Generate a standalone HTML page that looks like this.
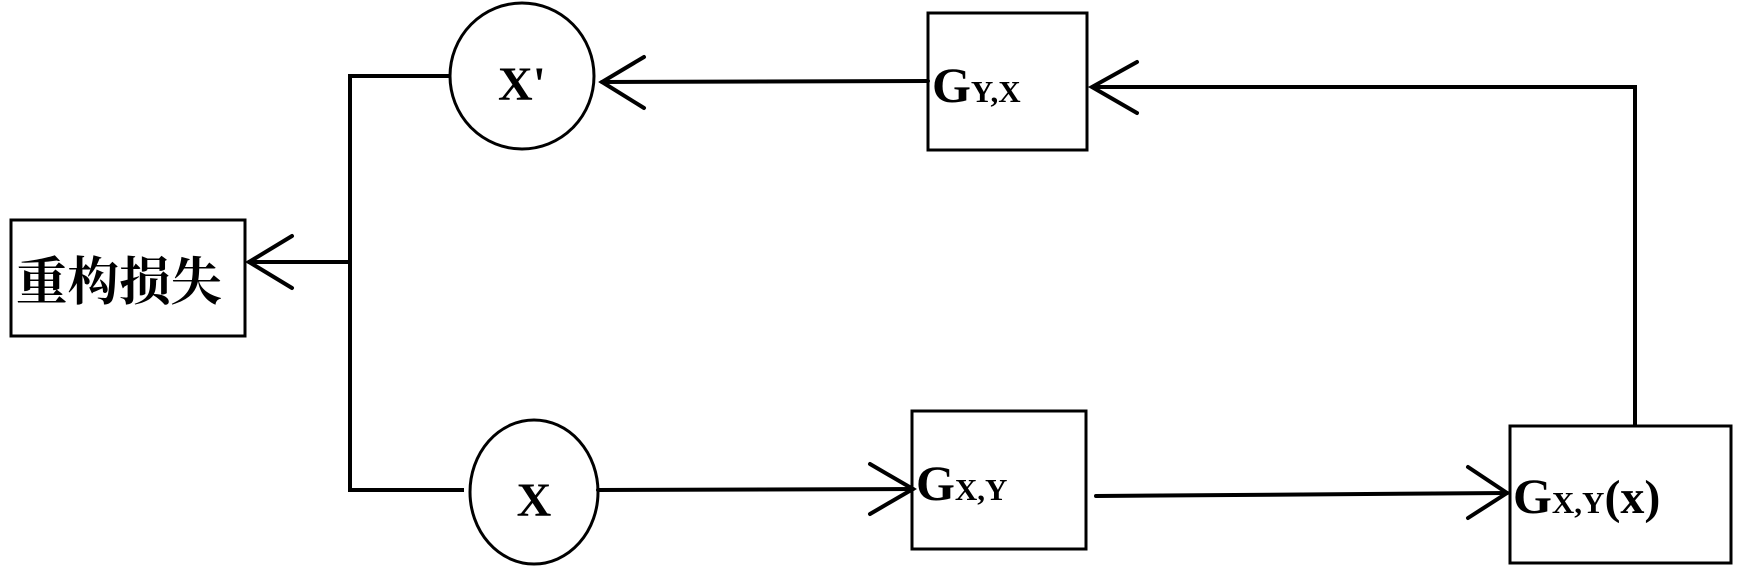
<!DOCTYPE html>
<html><head><meta charset="utf-8"><style>
html,body{margin:0;padding:0;background:#fff;}
svg{display:block;}
text{font-family:"Liberation Serif","Noto Serif CJK SC",serif;font-weight:bold;fill:#000;}
</style></head><body>
<svg width="1738" height="574" viewBox="0 0 1738 574" xmlns="http://www.w3.org/2000/svg">
<g fill="none" stroke="#000" stroke-width="3">
<rect x="11" y="220" width="234" height="116"/>
<ellipse cx="522" cy="76" rx="72" ry="73"/>
<ellipse cx="534" cy="492" rx="64" ry="72"/>
<rect x="928" y="13" width="159" height="137"/>
<rect x="912" y="411" width="174" height="138"/>
<rect x="1510" y="426" width="221" height="137"/>
</g>
<g fill="none" stroke="#000" stroke-width="4" stroke-linecap="round" stroke-linejoin="miter">
<polyline points="451,76 350,76 350,490 464,490" stroke-linecap="butt"/>
<line x1="350" y1="262" x2="249" y2="262"/>
<polyline points="292,236 249,262 292,288"/>
<line x1="928" y1="81" x2="602" y2="82"/>
<polyline points="644,57 602,82 644,108"/>
<polyline points="1635,425 1635,87 1092,87" stroke-linecap="butt"/>
<polyline points="1137,62 1092,87 1137,113"/>
<line x1="598" y1="490" x2="913" y2="489"/>
<polyline points="870,464 913,489 870,514"/>
<line x1="1096" y1="496" x2="1507" y2="493"/>
<polyline points="1468,467 1507,493 1468,518"/>
</g>
<text x="16" y="300" font-size="52" font-family="'Liberation Serif','Noto Serif CJK SC',serif" textLength="206" lengthAdjust="spacingAndGlyphs">重构损失</text>
<text x="522" y="100" font-size="48" text-anchor="middle">X'</text>
<text x="534" y="516" font-size="48" text-anchor="middle">X</text>
<text x="932" y="102" font-size="50">G<tspan font-size="31">Y,X</tspan></text>
<text x="916" y="500" font-size="50">G<tspan font-size="31">X,Y</tspan></text>
<text x="1513" y="513" font-size="50">G<tspan font-size="31">X,Y</tspan><tspan font-size="48">(x)</tspan></text>
</svg>
</body></html>
